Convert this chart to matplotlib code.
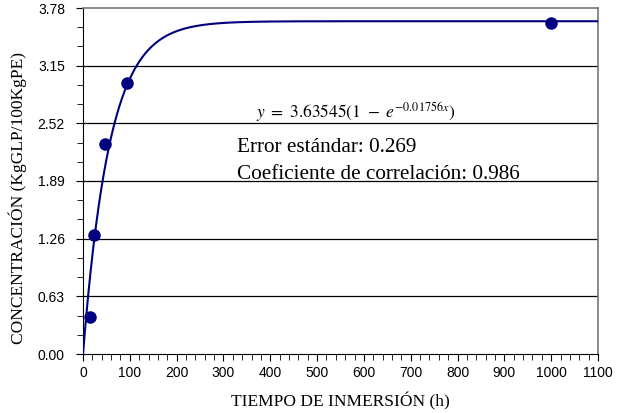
import numpy as np
import matplotlib.pyplot as plt
from matplotlib.ticker import MultipleLocator

plt.rcParams['mathtext.fontset'] = 'stix'

# measured points
tiempo = [16, 24, 48, 95, 1000]
concentracion = [0.40, 1.30, 2.29, 2.96, 3.62]

# fitted model shown on the chart
a = 3.63545
k = 0.01756

y_ticks = [0.00, 0.63, 1.26, 1.89, 2.52, 3.15, 3.78]
x_ticks = list(range(0, 1101, 100))

fig = plt.figure(figsize=(6.21, 4.13), dpi=100)
ax = fig.add_axes([83/621, 59/413, 515/621, 346/413])

x_fit = np.linspace(0, 1100, 600)
ax.plot(x_fit, a * (1 - np.exp(-k * x_fit)), color='#000080', lw=1.5, zorder=3)
ax.plot(tiempo, concentracion, 'o', color='#000080', ms=8, zorder=4)

ax.set_xlim(0, 1100)
ax.set_ylim(0, 3.78)
ax.set_xticks(x_ticks)
ax.set_yticks(y_ticks)
ax.set_yticklabels(['%.2f' % v for v in y_ticks])
ax.xaxis.set_minor_locator(MultipleLocator(20))
ax.yaxis.set_minor_locator(MultipleLocator(0.21))
ax.tick_params(which='both', direction='out', labelsize=10, colors='black')
ax.tick_params(which='major', length=5)
ax.tick_params(which='minor', length=4)
ax.tick_params(axis='y', which='major', pad=8)
for lbl in ax.get_xticklabels() + ax.get_yticklabels():
    lbl.set_fontfamily('Liberation Sans')

for v in y_ticks[1:-1]:
    ax.axhline(v, color='black', lw=0.9, zorder=1)

for s in ['top', 'right']:
    ax.spines[s].set_color('#777777')
    ax.spines[s].set_linewidth(1.2)

serif = 'Liberation Serif'
ax.set_xlabel('TIEMPO DE INMERSIÓN (h)', family=serif, fontsize=12.5, labelpad=9)
ax.set_ylabel('CONCENTRACIÓN (KgGLP/100KgPE)', family=serif, fontsize=12.5)
ax.yaxis.set_label_coords(-0.108, 0.45)

ax.text(0.53, 0.698, r'$y\ =\ 3.63545(1\ -\ e^{-0.01756x})$', transform=ax.transAxes,
        ha='center', va='center', fontsize=12.5)
ax.text(0.299, 0.598, 'Error estándar: 0.269', transform=ax.transAxes,
        family=serif, fontsize=15.3, va='center')
ax.text(0.299, 0.52, 'Coeficiente de correlación: 0.986', transform=ax.transAxes,
        family=serif, fontsize=15.3, va='center')

fig.savefig('out.png', dpi=100)
